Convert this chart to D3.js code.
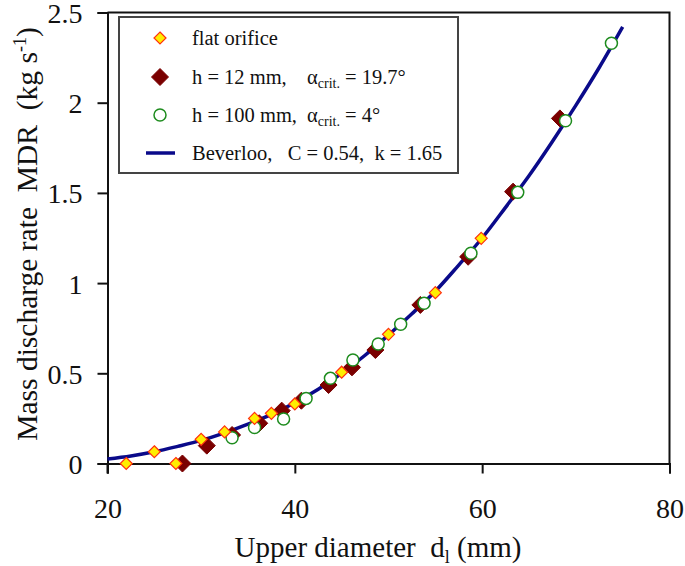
<!DOCTYPE html>
<html><head><meta charset="utf-8">
<script src="https://cdn.jsdelivr.net/npm/d3@7/dist/d3.min.js"></script>
<style>body{margin:0;background:#fff}svg{display:block}text{font-family:"Liberation Serif","Times New Roman",serif;fill:#111}</style>
</head><body><svg id="c" width="685" height="566"></svg>
<script>
// Flat orifice (yellow diamonds)
const flatD   = [22.0, 25.0, 27.3, 30.0, 32.5, 35.7, 37.5, 40.0, 45.0, 50.0, 55.0, 59.9];
const flatMDR = [0.000, 0.065, 0.000, 0.134, 0.175, 0.250, 0.278, 0.330, 0.506, 0.716, 0.947, 1.248];
// h = 12 mm (brown diamonds)
const h12D   = [28.0, 30.6, 33.3, 36.2, 38.6, 40.7, 43.6, 46.1, 48.6, 53.4, 58.5, 63.3, 68.3];
const h12MDR = [0.000, 0.099, 0.158, 0.223, 0.293, 0.348, 0.435, 0.533, 0.629, 0.879, 1.146, 1.507, 1.913];
// h = 100 mm (open circles)
const h100D   = [33.3, 35.7, 38.8, 41.2, 43.8, 46.2, 48.9, 51.3, 53.8, 58.8, 63.8, 68.9, 73.8];
const h100MDR = [0.143, 0.200, 0.247, 0.361, 0.472, 0.574, 0.662, 0.772, 0.888, 1.165, 1.503, 1.900, 2.330];
// Beverloo curve
const bevD   = [20, 22.5, 25, 27.5, 30, 32.5, 35, 37.5, 40, 42.5, 45, 47.5, 50, 52.5, 55, 57.5, 60, 62.5, 65, 67.5, 70, 72.5, 75];
const bevMDR = [0.025, 0.042, 0.065, 0.095, 0.128, 0.170, 0.218, 0.272, 0.337, 0.412, 0.500, 0.600, 0.712, 0.830, 0.955, 1.100, 1.250, 1.420, 1.595, 1.785, 1.985, 2.195, 2.420];
const xTicks = [20, 40, 60, 80];
const yTicks = [0, 0.5, 1, 1.5, 2, 2.5];
const yTickLabels = ["0", "0.5", "1", "1.5", "2", "2.5"];

const svg = d3.select("#c");
const x = d3.scaleLinear().domain([20, 80]).range([107.5, 669.5]);
const y = d3.scaleLinear().domain([0, 2.5]).range([463.5, 12.5]);

// frame (top/right)
svg.append("path").attr("d", `M${x(20)},${y(2.5)}H${x(80)}V${y(0)}`).attr("fill","none").attr("stroke","#111").attr("stroke-width",2);

const xAxis = svg.append("g").attr("transform", `translate(0,${y(0)})`)
  .call(d3.axisBottom(x).tickValues(xTicks).tickSizeOuter(0).tickSize(10).tickPadding(27));
const yAxis = svg.append("g").attr("transform", `translate(${x(20)},0)`)
  .call(d3.axisLeft(y).tickValues(yTicks).tickFormat((d,i)=>yTickLabels[i]).tickSizeOuter(0).tickSize(10).tickPadding(15));
[xAxis, yAxis].forEach(g => {
  g.select(".domain").attr("stroke","#111").attr("stroke-width",2);
  g.selectAll(".tick line").attr("stroke","#111").attr("stroke-width",2);
  g.selectAll(".tick text").attr("font-family","Liberation Serif").attr("font-size",28).attr("fill","#111");
});
yAxis.selectAll(".tick text").attr("dy","0.36em");
xAxis.selectAll(".tick text").attr("dy","0.62em");
// extend axes through origin
svg.append("line").attr("x1",x(20)).attr("x2",x(20)).attr("y1",y(0)).attr("y2",y(0)+10).attr("stroke","#111").attr("stroke-width",2);

// Beverloo line
const pts = bevD.map((d,i)=>[d, bevMDR[i]]);
svg.append("path").datum(pts)
  .attr("d", d3.line().x(d=>x(d[0])).y(d=>y(d[1])).curve(d3.curveCatmullRom))
  .attr("fill","none").attr("stroke","#0a0a8a").attr("stroke-width",3.5);

const diamond = (cx, cy, r) => `M${cx},${cy-r}L${cx+r},${cy}L${cx},${cy+r}L${cx-r},${cy}Z`;

// h=12 brown diamonds
svg.append("g").selectAll("path").data(h12D.map((d,i)=>[d,h12MDR[i]])).join("path")
  .attr("d", d => diamond(x(d[0]), y(d[1]), 8.5)).attr("fill","#7a0000").attr("stroke","#7a0000").attr("stroke-width",1);
// h=100 circles
svg.append("g").selectAll("circle").data(h100D.map((d,i)=>[d,h100MDR[i]])).join("circle")
  .attr("cx", d=>x(d[0])).attr("cy", d=>y(d[1])).attr("r",6).attr("fill","#fff").attr("stroke","#1e8c1e").attr("stroke-width",1.5);
// flat orifice yellow diamonds
svg.append("g").selectAll("path").data(flatD.map((d,i)=>[d,flatMDR[i]])).join("path")
  .attr("d", d => diamond(x(d[0]), y(d[1]), 6)).attr("fill","#ffee00").attr("stroke","#ff3010").attr("stroke-width",1.2);

// Legend
const lg = svg.append("g");
lg.append("rect").attr("x",119).attr("y",17).attr("width",339).attr("height",156).attr("fill","#fff").attr("stroke","#444").attr("stroke-width",2);
const rows = [38, 77, 115, 153];
lg.append("path").attr("d", diamond(160, rows[0], 6)).attr("fill","#ffee00").attr("stroke","#ff3010").attr("stroke-width",1.2);
lg.append("path").attr("d", diamond(160, rows[1], 8.5)).attr("fill","#7a0000").attr("stroke","#7a0000");
lg.append("circle").attr("cx",160).attr("cy",rows[2]).attr("r",6).attr("fill","#fff").attr("stroke","#1e8c1e").attr("stroke-width",1.5);
lg.append("line").attr("x1",146).attr("x2",175).attr("y1",rows[3]).attr("y2",rows[3]).attr("stroke","#0a0a8a").attr("stroke-width",3.5);
const fs = 20.5;
lg.append("text").attr("x",192).attr("y",rows[0]+7).attr("font-size",fs).text("flat orifice");
function alphaRow(yy, left, right){
  const t = lg.append("text").attr("y", yy+7).attr("font-size",fs);
  t.append("tspan").attr("x",192).text(left);
  t.append("tspan").attr("x",307).text("α");
  t.append("tspan").attr("font-size",14).attr("dy",4).text("crit.");
  t.append("tspan").attr("dy",-4).text(right);
}
alphaRow(rows[1], "h = 12 mm,", " = 19.7°");
alphaRow(rows[2], "h = 100 mm,", " = 4°");
lg.append("text").attr("x",192).attr("y",rows[3]+7).attr("font-size",fs).attr("xml:space","preserve").text("Beverloo,   C = 0.54,  k = 1.65");

// Axis titles
const xt = svg.append("text").attr("x",378).attr("y",557).attr("text-anchor","middle").attr("font-size",29).attr("xml:space","preserve");
xt.append("tspan").text("Upper diameter  d");
xt.append("tspan").attr("font-size",18).attr("dy",6).text("l");
xt.append("tspan").attr("dy",-6).text(" (mm)");
const yt = svg.append("text").attr("transform","translate(37,234) rotate(-90)").attr("text-anchor","middle").attr("font-size",29.5).attr("xml:space","preserve");
yt.append("tspan").text("Mass discharge rate  MDR  (kg s");
yt.append("tspan").attr("font-size",18).attr("dy",-11).text("-1");
yt.append("tspan").attr("dy",11).text(")");
</script></body></html>
